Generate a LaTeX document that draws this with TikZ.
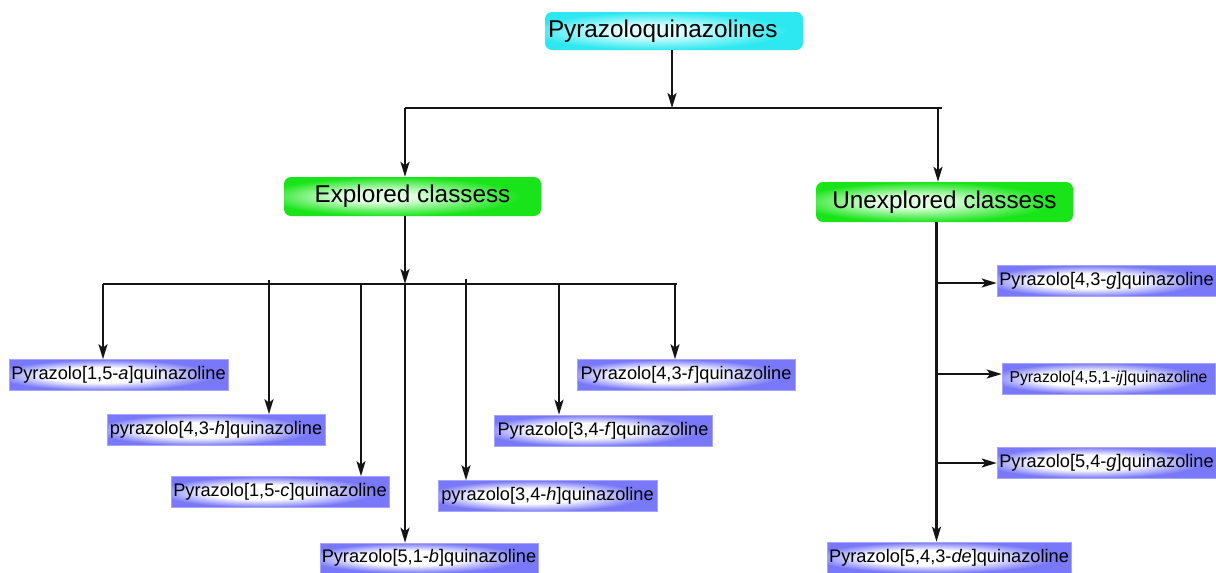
\documentclass[tikz,border=0pt]{standalone}
\usepackage{fontspec}
\setmainfont{Liberation Sans}
\usetikzlibrary{arrows.meta}
\definecolor{bluebox}{RGB}{120,120,248}
\definecolor{blueedge}{RGB}{165,165,255}
\definecolor{greenbox}{RGB}{25,228,25}
\definecolor{greenin}{RGB}{225,255,225}
\definecolor{cyanbox}{RGB}{45,232,240}
\definecolor{cyanin}{RGB}{225,255,255}
\definecolor{linecol}{RGB}{20,20,20}
\pgfdeclareradialshading{softblue}{\pgfpoint{-6bp}{0bp}}{color(0bp)=(white); color(12bp)=(white); color(25bp)=(bluebox); color(50bp)=(bluebox)}
\pgfdeclareradialshading{softgreen}{\pgfpoint{-8bp}{0bp}}{color(0bp)=(greenin); color(7bp)=(greenin); color(25bp)=(greenbox); color(50bp)=(greenbox)}
\pgfdeclareradialshading{softcyan}{\pgfpoint{-6bp}{0bp}}{color(0bp)=(cyanin); color(7bp)=(cyanin); color(25bp)=(cyanbox); color(50bp)=(cyanbox)}
\begin{document}
\begin{tikzpicture}[x=1pt,y=-1pt,
  bbox/.style={draw=blueedge, line width=0.6pt, shading=softblue,
    inner sep=0pt, minimum height=31pt, font=\fontsize{18.2}{20}\selectfont},
  gbox/.style={rounded corners=7pt, shading=softgreen,
    inner sep=0pt, minimum width=257pt, font=\fontsize{24.3}{27}\selectfont},
  cbox/.style={rounded corners=7pt, shading=softcyan,
    inner ysep=0pt, inner xsep=3pt, text width=252pt, align=left, minimum height=38pt, font=\fontsize{24.3}{27}\selectfont},
  ln/.style={draw=linecol, line width=2.2pt},
  arr/.style={ln, -{Stealth[length=15pt,width=9pt,inset=3.5pt]}}
]
\useasboundingbox (0,0) rectangle (1216,573);

% top
\node[cbox] (top) at (674,31) {Pyrazoloquinazolines};
\node[gbox, minimum height=39pt] (exp) at (412.5,196.5) {Explored classess};
\node[gbox, minimum height=40pt] (unexp) at (944.5,202) {Unexplored classess};

% explored children
\node[bbox, minimum width=219pt] (A) at (118.5,375) {Pyrazolo[1,5-\textit{a}]quinazoline};
\node[bbox, minimum width=218pt] (B) at (216,430) {pyrazolo[4,3-\textit{h}]quinazoline};
\node[bbox, minimum width=218pt] (C) at (280,492) {Pyrazolo[1,5-\textit{c}]quinazoline};
\node[bbox, minimum width=218pt, minimum height=30pt] (D) at (429,558) {Pyrazolo[5,1-\textit{b}]quinazoline};
\node[bbox, minimum width=219pt] (E) at (547.5,496) {pyrazolo[3,4-\textit{h}]quinazoline};
\node[bbox, minimum width=218pt] (F) at (603,430.5) {Pyrazolo[3,4-\textit{f}]quinazoline};
\node[bbox, minimum width=218pt] (G) at (686,375) {Pyrazolo[4,3-\textit{f}]quinazoline};

% unexplored children
\node[bbox, minimum width=219pt] (H) at (1106.5,281) {Pyrazolo[4,3-\textit{g}]quinazoline};
\node[bbox, minimum width=213pt, font=\fontsize{15.8}{18}\selectfont] (I) at (1108.5,378.5) {Pyrazolo[4,5,1-\textit{ij}]quinazoline};
\node[bbox, minimum width=219pt] (J) at (1106.5,462.5) {Pyrazolo[5,4-\textit{g}]quinazoline};
\node[bbox, minimum width=244pt] (K) at (949,557.5) {Pyrazolo[5,4,3-\textit{de}]quinazoline};

% junction coordinates
\coordinate (t0) at (672,108);
\coordinate (tl) at (405,108);
\coordinate (tr) at (938,108);
\coordinate (tre) at (942,108);
\coordinate (m0) at (405,284);
\coordinate (ml) at (103,284);
\coordinate (mr) at (677,284);
\coordinate (bB) at (269,280);
\coordinate (bC) at (361,284);
\coordinate (bE) at (466,279);
\coordinate (bF) at (559,284);
\coordinate (bG) at (675,284);
\coordinate (rH) at (935,283);
\coordinate (rI) at (935,374);
\coordinate (rJ) at (935,463);
\coordinate (rv) at (936.5,222);

% top level
\draw[arr] (top.south -| t0) -- (t0);
\draw[ln] (tl) -- (tre);
\draw[arr] (tl) -- (tl |- exp.north);
\draw[arr] (tr) -- (tr |- unexp.north);

% explored
\draw[arr] (exp.south -| m0) -- (m0);
\draw[ln] (ml) -- (mr);
\draw[arr] (ml) -- (ml |- A.north);
\draw[arr] (bB) -- (bB |- B.north);
\draw[arr] (bC) -- (bC |- C.north);
\draw[arr] (m0) -- (m0 |- D.north);
\draw[arr] (bE) -- (bE |- E.north);
\draw[arr] (bF) -- (bF |- F.north);
\draw[arr] (bG) -- (bG |- G.north);

% unexplored
\draw[arr] (rv) -- (rv |- K.north);
\draw[arr] (rH) -- (rH -| H.west);
\draw[arr] (rI) -- (rI -| I.west);
\draw[arr] (rJ) -- (rJ -| J.west);
\end{tikzpicture}
\end{document}
